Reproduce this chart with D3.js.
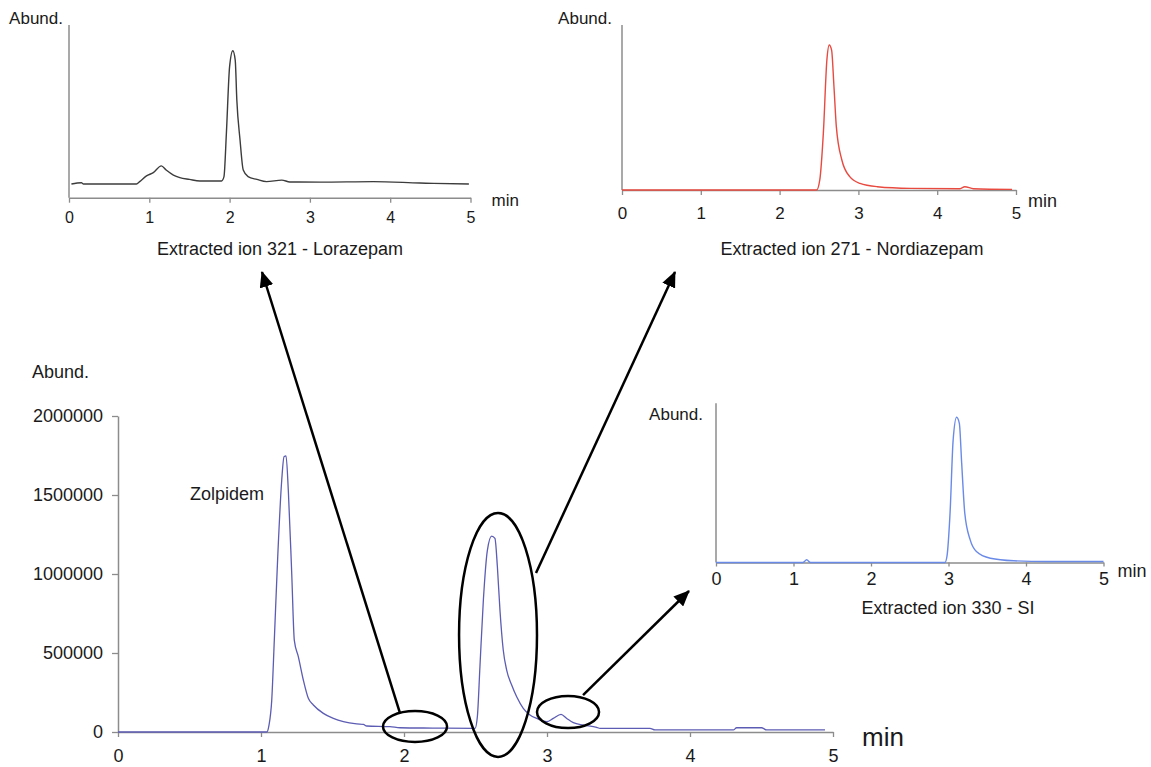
<!DOCTYPE html>
<html>
<head>
<meta charset="utf-8">
<script src="https://cdn.jsdelivr.net/npm/d3@7"></script>
<style>
  body { margin: 0; background: #fff; }
  svg { display: block; font-family: Arial, 'Liberation Sans', sans-serif; }
</style>
</head>
<body>
<div id="chart"></div>
<script>
// Total ion chromatogram (main panel)
var ticTime = [0, 1.04, 1.056, 1.075, 1.093, 1.117, 1.145, 1.161, 1.175, 1.191,
  1.215, 1.233, 1.261, 1.296, 1.331, 1.366, 1.436, 1.506, 1.576, 1.669,
  1.716, 1.739, 1.902, 1.972, 2.2, 2.497, 2.513, 2.531, 2.555, 2.583,
  2.613, 2.636, 2.653, 2.671, 2.694, 2.718, 2.753, 2.788, 2.834, 2.881,
  2.928, 2.998, 3.044, 3.098, 3.138, 3.184, 3.254, 3.347, 3.371, 3.72,
  3.755, 4.303, 4.326, 4.501, 4.536, 4.944];
var ticAbund = [0, 0, 44000, 200000, 580000, 1110000, 1595000, 1742000, 1747000, 1530000,
  1000000, 580000, 477000, 329000, 213000, 171000, 118000, 86000, 65000, 51000,
  48000, 38000, 34000, 27000, 25000, 23000, 97000, 413000, 835000, 1150000,
  1240000, 1225000, 1046000, 772000, 519000, 392000, 297000, 223000, 150000, 108000,
  86000, 65000, 86000, 112000, 86000, 59000, 44000, 30000, 23000, 23000,
  13000, 13000, 27000, 27000, 13000, 13000];
var ticYTicks = [0, 500000, 1000000, 1500000, 2000000];
var timeTicks = [0, 1, 2, 3, 4, 5];

// Extracted ion 321 - Lorazepam (relative abundance)
var lorazepamTime = [0.03, 0.155, 0.18, 0.84, 0.88, 0.965, 1.05, 1.15, 1.21, 1.30,
  1.38, 1.50, 1.63, 1.90, 1.93, 1.96, 2.00, 2.04, 2.07, 2.09,
  2.13, 2.17, 2.23, 2.34, 2.46, 2.65, 2.75, 3.13, 3.79, 4.37, 4.54, 4.98];
var lorazepamAbund = [7.9, 8.7, 7.9, 7.9, 9.3, 12.6, 14.5, 18.4, 16.0, 13.1,
  11.6, 10.6, 9.7, 9.7, 12.2, 37.3, 75.9, 85.1, 79.7, 56.6,
  33.4, 16.0, 12.2, 10.6, 9.3, 10.2, 9.1, 9.0, 9.3, 8.5, 8.3, 7.9];

// Extracted ion 271 - Nordiazepam
var nordiazepamTime = [0, 2.47, 2.51, 2.555, 2.60, 2.63, 2.66, 2.69, 2.72, 2.79,
  2.89, 3.02, 3.24, 3.66, 4.29, 4.35, 4.46, 4.95];
var nordiazepamAbund = [0, 0, 6.1, 34.3, 78.8, 87.9, 84.8, 62.6, 38.4, 18.2,
  8.1, 4.0, 2.0, 1.0, 0.8, 2.0, 0.8, 0.4];

// Extracted ion 330 - SI
var siTime = [0, 1.12, 1.17, 1.22, 2.955, 2.98, 3.02, 3.06, 3.105, 3.14,
  3.17, 3.21, 3.28, 3.36, 3.54, 3.84, 4.27, 5];
var siAbund = [0, 0, 1.7, 0, 0, 3.8, 31, 77, 91.2, 87.4,
  62.4, 31, 14.2, 6.9, 2.7, 1.1, 0.6, 0.6];

// Regions circled on the TIC: [t0, t1] and [abund low, abund high]
var circleTime = [[1.853, 2.301], [2.385, 2.930], [2.930, 3.364]];
var circleAbund = [[-63000, 133000], [-158000, 1386000], [25000, 228000]];
// where each arrow leaves its circle (time, abundance)
var arrowFrom = [[1.972, 120000], [2.923, 1006000], [3.252, 234000]];

var width = 1151, height = 767;
var axisColor = '#8c8c8c';
var textColor = '#1a1a1a';

var svg = d3.select('#chart').append('svg')
    .attr('width', width)
    .attr('height', height);

svg.append('rect')
    .attr('width', width)
    .attr('height', height)
    .attr('fill', '#fff');

svg.append('defs').append('marker')
    .attr('id', 'head')
    .attr('markerUnits', 'userSpaceOnUse')
    .attr('viewBox', '0 -7 16 14')
    .attr('refX', 15)
    .attr('refY', 0)
    .attr('markerWidth', 16)
    .attr('markerHeight', 14)
    .attr('orient', 'auto')
  .append('path')
    .attr('d', 'M0,-7L16,0L0,7Z')
    .attr('fill', '#000');

function styleAxis(g, fontSize) {
  g.select('.domain').attr('stroke', axisColor).attr('stroke-width', 1.5);
  g.selectAll('.tick line').attr('stroke', axisColor).attr('stroke-width', 1.3);
  g.selectAll('.tick text')
      .attr('fill', textColor)
      .attr('font-size', fontSize)
      .attr('font-family', 'Arial, Liberation Sans, sans-serif');
}

// Small chromatogram panels
function drawInset(opts) {
  var x = d3.scaleLinear().domain([0, 5]).range([opts.left, opts.right]);
  var y = d3.scaleLinear().domain([0, 100]).range([opts.bottom, opts.top]);

  var g = svg.append('g').attr('class', 'inset');

  // y axis: just a line, no ticks
  g.append('line')
      .attr('x1', x(0)).attr('x2', x(0))
      .attr('y1', y(100)).attr('y2', y(0))
      .attr('stroke', axisColor)
      .attr('stroke-width', 1.5);

  var xAxis = d3.axisBottom(x)
      .tickValues(timeTicks)
      .tickFormat(d3.format('d'))
      .tickSize(opts.tickSize)
      .tickSizeOuter(0)
      .tickPadding(opts.tickPad);

  g.append('g')
      .attr('transform', 'translate(0,' + y(0) + ')')
      .call(xAxis)
      .call(styleAxis, opts.tickFont);

  var line = d3.line()
      .curve(d3.curveMonotoneX)
      .x(function(d) { return x(d[0]); })
      .y(function(d) { return y(d[1]); });

  g.append('path')
      .datum(d3.zip(opts.time, opts.abund))
      .attr('fill', 'none')
      .attr('stroke', opts.color)
      .attr('stroke-width', 1.4)
      .attr('stroke-linejoin', 'round')
      .attr('d', line);

  g.append('text')
      .attr('x', x(0) - opts.abundGap)
      .attr('y', opts.abundY)
      .attr('text-anchor', 'end')
      .attr('font-size', 17)
      .attr('fill', textColor)
      .text('Abund.');

  g.append('text')
      .attr('x', x(5) + opts.minDx)
      .attr('y', y(0) + opts.minDy)
      .attr('font-size', opts.minFont)
      .attr('fill', textColor)
      .text('min');

  g.append('text')
      .attr('x', opts.titleX)
      .attr('y', opts.titleY)
      .attr('text-anchor', 'middle')
      .attr('font-size', 18)
      .attr('fill', textColor)
      .text(opts.title);
}

drawInset({
  left: 69, right: 470.5, top: 25, bottom: 197.7,
  time: lorazepamTime, abund: lorazepamAbund, color: '#3c3c3c',
  tickSize: 5, tickPad: 9, tickFont: 16,
  abundGap: 6, abundY: 24,
  minDx: 21, minDy: 8, minFont: 17,
  title: 'Extracted ion 321 - Lorazepam', titleX: 280, titleY: 255
});

drawInset({
  left: 622, right: 1016, top: 25, bottom: 190,
  time: nordiazepamTime, abund: nordiazepamAbund, color: '#e84a40',
  tickSize: 5, tickPad: 12, tickFont: 17,
  abundGap: 10, abundY: 24,
  minDx: 12, minDy: 17, minFont: 18,
  title: 'Extracted ion 271 - Nordiazepam', titleX: 852, titleY: 255
});

drawInset({
  left: 716, right: 1103.5, top: 403.3, bottom: 562.5,
  time: siTime, abund: siAbund, color: '#6a8ae8',
  tickSize: 4, tickPad: 6, tickFont: 18,
  abundGap: 13, abundY: 420,
  minDx: 14, minDy: 14, minFont: 18,
  title: 'Extracted ion 330 - SI', titleX: 948, titleY: 614
});

// Main total ion chromatogram
var margin = {left: 118, top: 416, right: 833, bottom: 732};
var xMain = d3.scaleLinear().domain([0, 5]).range([margin.left, margin.right]);
var yMain = d3.scaleLinear().domain([0, 2000000]).range([margin.bottom, margin.top]);

var main = svg.append('g').attr('class', 'main');

main.append('g')
    .attr('transform', 'translate(' + margin.left + ',0)')
    .call(d3.axisLeft(yMain)
      .tickValues(ticYTicks)
      .tickFormat(d3.format('d'))
      .tickSize(6)
      .tickSizeOuter(0)
      .tickPadding(9))
    .call(styleAxis, 18);

// HACK: labels sit right at the bottom edge, pulled up a little so they fit
main.append('g')
    .attr('transform', 'translate(0,' + margin.bottom + ')')
    .call(d3.axisBottom(xMain)
      .tickValues(timeTicks)
      .tickFormat(d3.format('d'))
      .tickSize(5)
      .tickSizeOuter(0)
      .tickPadding(12))
    .call(styleAxis, 18);

var mainLine = d3.line()
    .curve(d3.curveMonotoneX)
    .x(function(d) { return xMain(d[0]); })
    .y(function(d) { return yMain(d[1]); });

main.append('path')
    .datum(d3.zip(ticTime, ticAbund))
    .attr('fill', 'none')
    .attr('stroke', '#5c5cb4')
    .attr('stroke-width', 1.3)
    .attr('stroke-linejoin', 'round')
    .attr('d', mainLine);

main.append('text')
    .attr('x', 32)
    .attr('y', 378)
    .attr('font-size', 18)
    .attr('fill', textColor)
    .text('Abund.');

main.append('text')
    .attr('x', 862)
    .attr('y', 746)
    .attr('font-size', 26)
    .attr('fill', textColor)
    .text('min');

main.append('text')
    .attr('x', 190)
    .attr('y', 500)
    .attr('font-size', 18)
    .attr('fill', textColor)
    .text('Zolpidem');

// Circled regions
main.selectAll('.circled')
    .data(d3.zip(circleTime, circleAbund))
  .enter().append('ellipse')
    .attr('class', 'circled')
    .attr('cx', function(d) { return (xMain(d[0][0]) + xMain(d[0][1])) / 2; })
    .attr('cy', function(d) { return (yMain(d[1][0]) + yMain(d[1][1])) / 2; })
    .attr('rx', function(d) { return (xMain(d[0][1]) - xMain(d[0][0])) / 2; })
    .attr('ry', function(d) { return (yMain(d[1][0]) - yMain(d[1][1])) / 2; })
    .attr('fill', 'none')
    .attr('stroke', '#000')
    .attr('stroke-width', 2.5);

// Arrows pointing at the extracted ion panels (tips placed under each panel)
var arrowTo = [[262, 272], [675, 272], [689, 591]];

main.selectAll('.arrow')
    .data(d3.zip(arrowFrom, arrowTo))
  .enter().append('line')
    .attr('class', 'arrow')
    .attr('x1', function(d) { return xMain(d[0][0]); })
    .attr('y1', function(d) { return yMain(d[0][1]); })
    .attr('x2', function(d) { return d[1][0]; })
    .attr('y2', function(d) { return d[1][1]; })
    .attr('stroke', '#000')
    .attr('stroke-width', 2.5)
    .attr('marker-end', 'url(#head)');
</script>
</body>
</html>
